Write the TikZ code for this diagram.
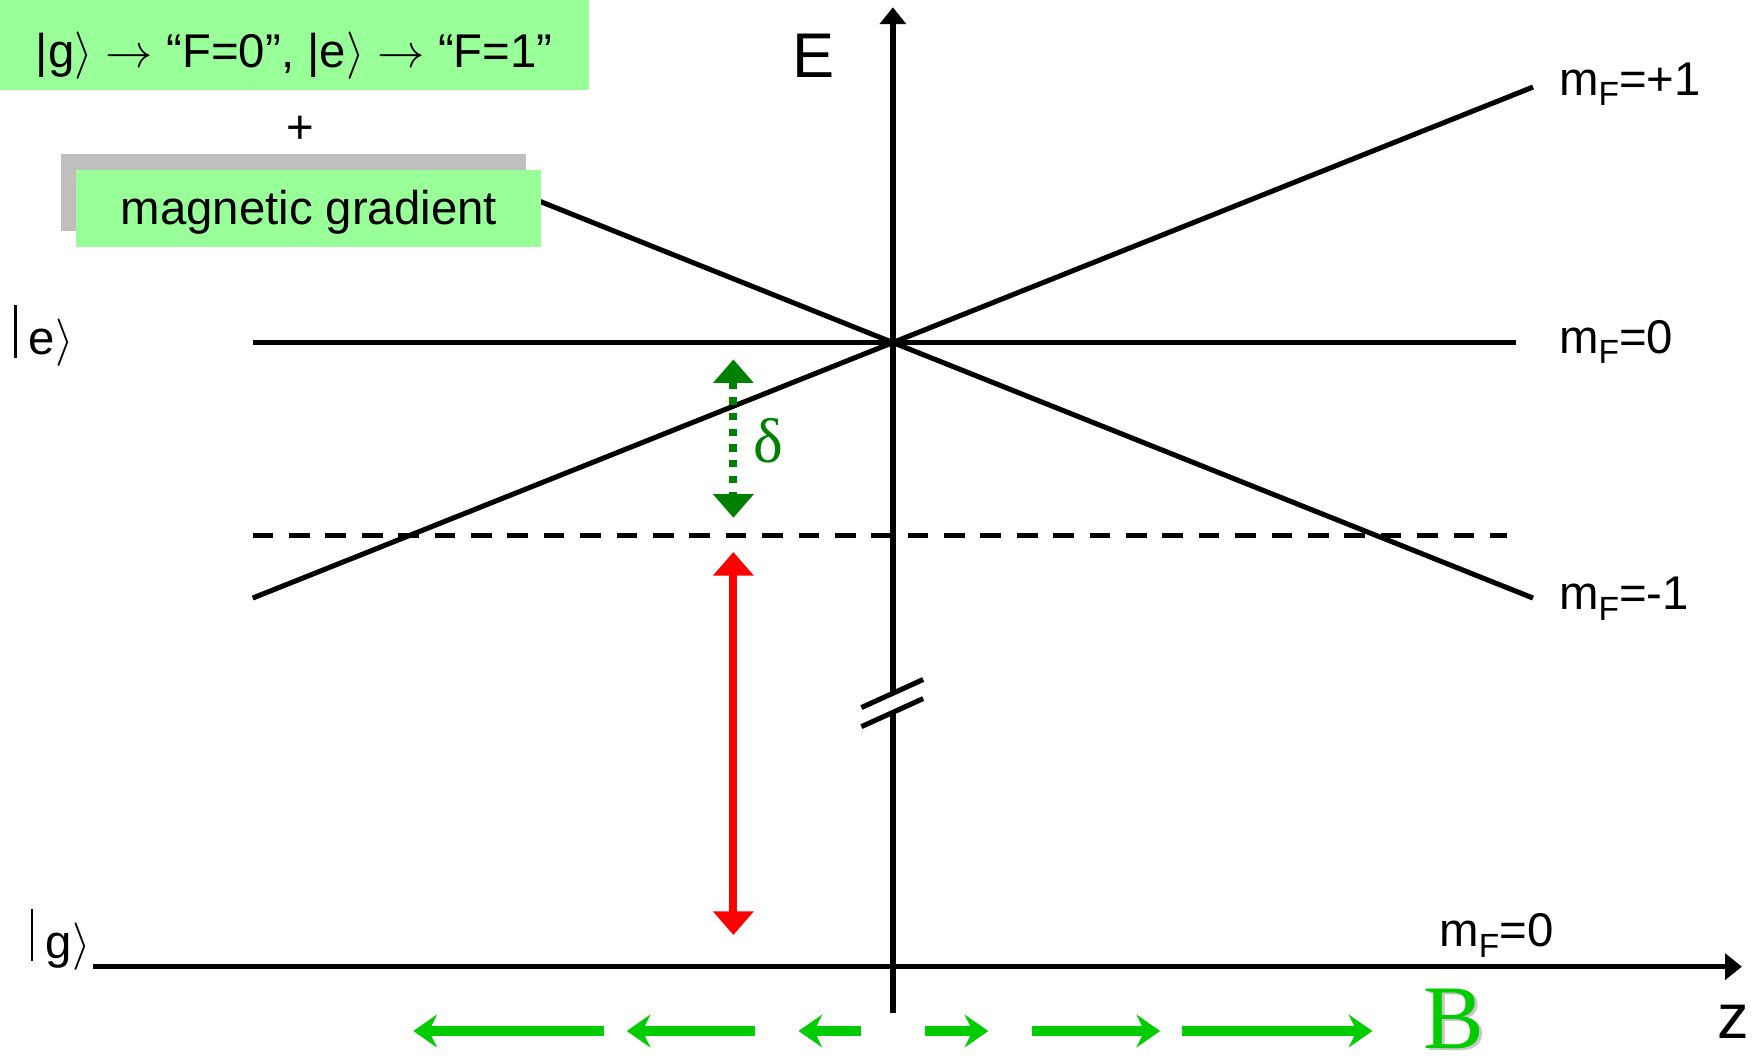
\documentclass[tikz,border=0pt]{standalone}
\usepackage{fontspec}
\setmainfont{Liberation Sans}
\newfontfamily\serifgreek{Liberation Serif}
\usetikzlibrary{arrows.meta,shadows}
\definecolor{paleGreen}{HTML}{99FF99}
\definecolor{fieldGreen}{HTML}{00CC00}
\definecolor{darkGreen}{HTML}{008000}
\newcommand{\mFlabel}[1]{m\raisebox{-0.22em}{\fontsize{8.5}{8.5}\selectfont F}=#1}
\newcommand{\ketbar}{\rule[-0.3mm]{0.6pt}{4.7mm}\hspace{1.1mm}}

\begin{document}
\begin{tikzpicture}[
    font=\fontsize{12}{14}\selectfont,
    banner/.style={fill=paleGreen, inner sep=0pt, align=center},
    level/.style={line width=0.45mm, black},
    axisline/.style={line width=0.5mm, -{Triangle[length=1.5mm, width=2.3mm]}},
    fieldarr/.style={line width=0.9mm, fieldGreen, -{Stealth[length=2.1mm, width=2.9mm, inset=0.7mm]}},
    splitarr/.style={line width=0.7mm, {Triangle[length=2.1mm, width=3.5mm]}-{Triangle[length=2.1mm, width=3.5mm]}},
    mlabel/.style={anchor=base west, inner sep=0pt},
    bigtext/.style={font=\fontsize{16}{18}\selectfont},
    fieldname/.style={inner sep=0pt, font=\serifgreek\fontsize{23}{25}\selectfont}
]
\useasboundingbox (0,0) rectangle (15.68,-9.46);
\coordinate (xing) at (7.95,-3.05);
\coordinate (Ebot) at (7.95,-9.02);
\coordinate (Etop) at (7.95,-0.065);
\coordinate (zleft) at (0.83,-8.607);
\coordinate (zright) at (15.51,-8.607);

\draw[level] (2.25,-3.05) -- (xing) -- (13.50,-3.05);
\draw[level] (2.25,-5.325) -- (xing) -- (13.65,-0.775);
\draw[level] (4.70,-1.75) -- (xing) -- (13.65,-5.325);
\draw[level, dash pattern=on 1.84mm off 1.4mm] (2.25,-4.765) -- (13.42,-4.765);

\draw[axisline] (Ebot) -- (Etop);
\draw[axisline] (zleft) -- (zright);
\fill[white] (7.67,-6.30) -- (8.22,-6.05) -- (8.22,-6.22) -- (7.67,-6.47) -- cycle;
\draw[level] (7.67,-6.30) -- (8.22,-6.05) (7.67,-6.47) -- (8.22,-6.22);

\draw[splitarr, red] (6.53,-4.915) -- (6.53,-8.325);
\draw[splitarr, darkGreen, dash pattern=on 0.65mm off 0.75mm] (6.53,-3.20) -- (6.53,-4.61);

\draw[fieldarr] (5.38,-9.18) -- (3.68,-9.18);
\draw[fieldarr] (6.72,-9.18) -- (5.58,-9.18);
\draw[fieldarr] (7.67,-9.18) -- (7.11,-9.18);
\draw[fieldarr] (8.24,-9.18) -- (8.80,-9.18);
\draw[fieldarr] (9.19,-9.18) -- (10.33,-9.18);
\draw[fieldarr] (10.52,-9.18) -- (12.22,-9.18);

\node[banner, minimum width=5.24cm, minimum height=0.80cm, text height=4.9mm, text depth=0.9mm] (hdr) at (2.62,-0.40) {|g$\rangle$ $\rightarrow$ “F=0”, |e$\rangle$ $\rightarrow$ “F=1”};
\node (plus) at (2.67,-1.16) {+};
\node[banner, minimum width=4.14cm, minimum height=0.69cm, text height=3.7mm, text depth=0.9mm,
      drop shadow={shadow xshift=-1.4mm, shadow yshift=1.4mm, fill=gray!50, opacity=1}] (grad) at (2.75,-1.855) {magnetic gradient};

\node[bigtext] (Elab) at (7.24,-0.50) {E};
\node[bigtext] (zlab) at (15.43,-9.10) {z};
\node[mlabel] (mp1) at (13.875,-0.846) {\mFlabel{+1}};
\node[mlabel] (m0) at (13.875,-3.145) {\mFlabel{0}};
\node[mlabel] (mm1) at (13.875,-5.43) {\mFlabel{-1}};
\node[mlabel] (mg0) at (12.81,-8.43) {\mFlabel{0}};
\node[mlabel] (ketE) at (0.12,-3.16) {\ketbar e$\rangle$};
\node[mlabel] (ketG) at (0.27,-8.53) {\ketbar g$\rangle$};

\node[text=darkGreen, font=\serifgreek\fontsize{16}{18}\selectfont] (delta) at (6.845,-3.92) {δ};
\node[fieldname, text=gray!45] at (12.97,-9.09) {B};
\node[fieldname, text=fieldGreen] (Blab) at (12.94,-9.07) {B};
\end{tikzpicture}
\end{document}
